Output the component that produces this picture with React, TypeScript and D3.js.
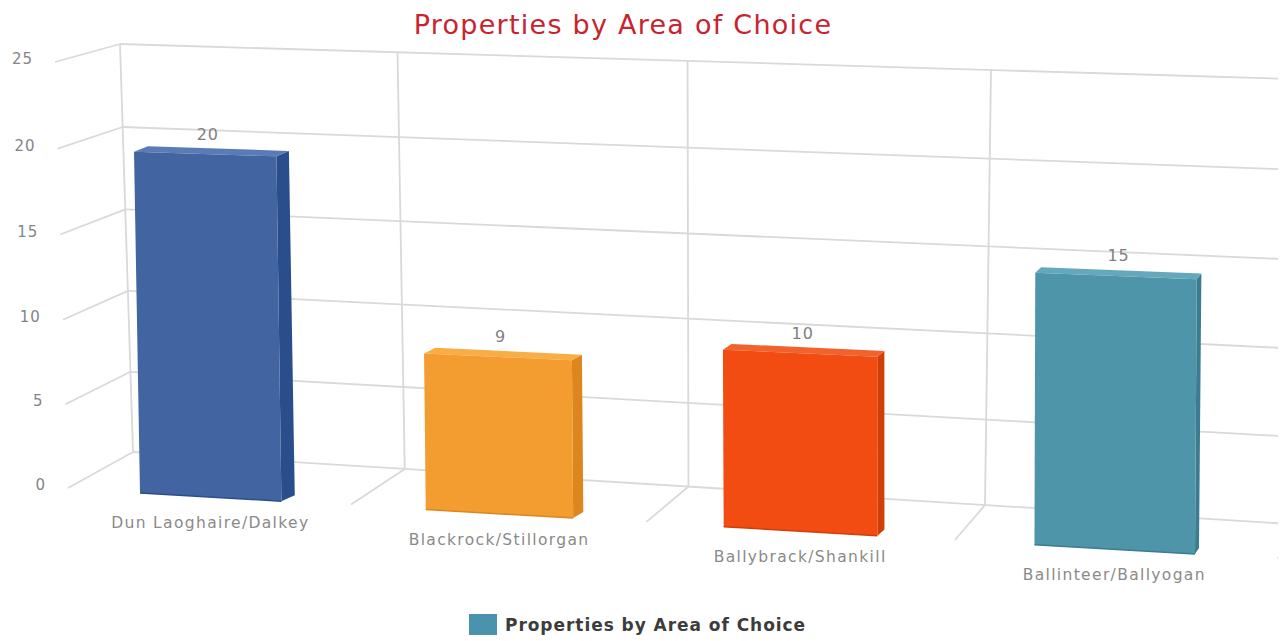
import React from "react";
import * as d3 from "d3";

// Chart content
const chartTitle = "Properties by Area of Choice";
const categories = ["Dun Laoghaire/Dalkey", "Blackrock/Stillorgan", "Ballybrack/Shankill", "Ballinteer/Ballyogan"];
const propertyCounts = [20, 9, 10, 15];
const valueTicks = [0, 5, 10, 15, 20, 25];

// Bar shading: front, side, top
const frontColors = ["#4264a1", "#f39c30", "#f24c13", "#4e95aa"];
const sideColors = ["#2a4e8c", "#dc861d", "#d23e07", "#3a7c90"];
const topColors = ["#5a7cb6", "#f8ad45", "#f2622c", "#64a9bb"];
const legendColor = "#4a93ad";

type Pt = [number, number];

// Maps a unit square onto a quad: corners are (0,0), (1,0), (1,1), (0,1)
function quadProjection([p0, p1, p2, p3]: Pt[]) {
  const dx1 = p1[0] - p2[0], dx2 = p3[0] - p2[0], sx = p0[0] - p1[0] + p2[0] - p3[0];
  const dy1 = p1[1] - p2[1], dy2 = p3[1] - p2[1], sy = p0[1] - p1[1] + p2[1] - p3[1];
  const den = dx1 * dy2 - dx2 * dy1;
  const g = (sx * dy2 - dx2 * sy) / den;
  const h = (dx1 * sy - sx * dy1) / den;
  const a = p1[0] - p0[0] + g * p1[0], b = p3[0] - p0[0] + h * p3[0];
  const d = p1[1] - p0[1] + g * p1[1], e = p3[1] - p0[1] + h * p3[1];
  return (s: number, t: number): Pt => {
    const w = g * s + h * t + 1;
    return [(a * s + b * t + p0[0]) / w, (d * s + e * t + p0[1]) / w];
  };
}

// A receding plane of the 3D scene, addressed in category and value units
function plane(uRange: [number, number], corners: Pt[]) {
  const su = d3.scaleLinear().domain(uRange).range([0, 1]);
  const sv = d3.scaleLinear().domain([0, 25]).range([0, 1]);
  const q = quadProjection(corners);
  return (u: number, v: number) => q(su(u), sv(v));
}

const wall = plane([0, 3], [[133, 452], [985, 505], [991, 70], [120, 44]]);
const tickPlane = plane([0, 3], [[68, 488], [955, 540], [961, 86], [55, 62]]);
const barFront = plane([0.25, 3.75], [[140, 493], [1195, 554], [1198, 94], [132.5, 65.5]]);
const barBack = plane([0.25, 3.75], [[155, 487], [1199, 548], [1203, 88], [146, 60]]);

const band = d3.scaleBand<number>()
  .domain(d3.range(categories.length))
  .range([0, categories.length])
  .paddingInner(0.5)
  .paddingOuter(0.25);

const poly = d3.line<Pt>().curve(d3.curveLinearClosed);
const seg = d3.line<Pt>();

const FONT = "'DejaVu Sans', sans-serif";
const GRID = "#d9d9d9";

export default function App() {
  return (
    <svg width={1285} height={641} style={{ position: "absolute", left: 0, top: 0 }} fontFamily={FONT}>
      <defs>
        <clipPath id="plot-area">
          <rect x={0} y={0} width={1278} height={641} />
        </clipPath>
      </defs>
      <rect width={1285} height={641} fill="#ffffff" />
      <text x={623} y={24} textAnchor="middle" dominantBaseline="central" fontSize={27} letterSpacing={1.25} fill="#c8242f">
        {chartTitle}
      </text>

      <g clipPath="url(#plot-area)">
        {valueTicks.map((v) => (
          <g key={v}>
            <path d={seg([wall(0, v), wall(4.1, v)])!} stroke={GRID} strokeWidth={1.8} fill="none" />
            <path d={seg([wall(0, v), tickPlane(0, v)])!} stroke={GRID} strokeWidth={1.8} fill="none" />
            <text
              x={tickPlane(0, v)[0] - 22}
              y={tickPlane(0, v)[1] - 3}
              textAnchor="end"
              dominantBaseline="central"
              fontSize={15}
              letterSpacing={1}
              fill="#858585"
            >
              {v}
            </text>
          </g>
        ))}

        {d3.range(categories.length + 1).map((u) => (
          <g key={u}>
            <path d={seg([wall(u, 0), wall(u, 25)])!} stroke={GRID} strokeWidth={1.8} fill="none" />
            {u > 0 && <path d={seg([wall(u, 0), tickPlane(u, 0)])!} stroke={GRID} strokeWidth={1.8} fill="none" />}
          </g>
        ))}
      </g>

      {propertyCounts.map((value, i) => {
        const u0 = band(i)!;
        const u1 = u0 + band.bandwidth();
        const um = (u0 + u1) / 2;
        const sidePts: Pt[] = [barFront(u1, 0), barBack(u1, 0), barBack(u1, value), barFront(u1, value)];
        const topPts: Pt[] = [barFront(u0, value), barBack(u0, value), barBack(u1, value), barFront(u1, value)];
        const frontPts: Pt[] = [barFront(u0, 0), barFront(u1, 0), barFront(u1, value), barFront(u0, value)];
        const top = barFront(um, value);
        const foot = barFront(um, 0);
        return (
          <g key={categories[i]}>
            <path d={poly(sidePts)!} fill={sideColors[i]} />
            <path d={poly(topPts)!} fill={topColors[i]} />
            <path d={poly(frontPts)!} fill={frontColors[i]} />
            <path d={seg([barFront(u0, 0), barFront(u1, 0)])!} stroke={sideColors[i]} strokeWidth={1.5} fill="none" />
            <text x={top[0] + 3} y={top[1] - 20} textAnchor="middle" dominantBaseline="central" fontSize={16} letterSpacing={1} fill="#7f7f7f">
              {value}
            </text>
            <text x={foot[0]} y={foot[1] + 26} textAnchor="middle" dominantBaseline="central" fontSize={15.5} letterSpacing={1.35} fill="#8a8a8a">
              {categories[i]}
            </text>
          </g>
        );
      })}

      <rect x={469} y={614} width={28} height={21} fill={legendColor} />
      <text x={505} y={625} dominantBaseline="central" fontSize={17} fontWeight="bold" letterSpacing={0.95} fill="#3c3c3c">
        {chartTitle}
      </text>
    </svg>
  );
}
